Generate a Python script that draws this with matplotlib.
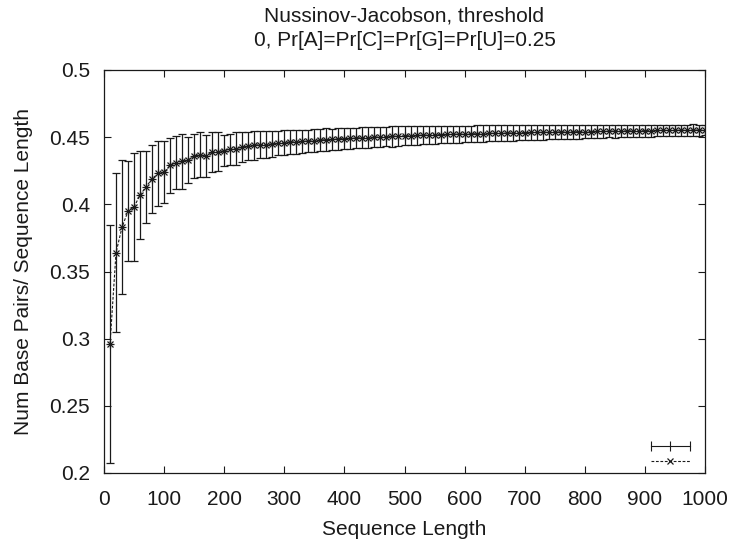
import numpy as np
import matplotlib
matplotlib.use("Agg")
import matplotlib.pyplot as plt

plt.rcParams['font.family'] = ['Liberation Sans', 'DejaVu Sans']

seq_len = list(range(10, 1001, 10))

mean_ratio = [
    0.296, 0.364, 0.383, 0.395, 0.398, 0.407, 0.413, 0.419, 0.423, 0.424,
    0.429, 0.431, 0.432, 0.433, 0.436, 0.437, 0.436, 0.439, 0.439, 0.440,
    0.441, 0.4415, 0.4425, 0.4435, 0.444, 0.4445, 0.4445, 0.445, 0.4455, 0.446,
    0.4465, 0.4466, 0.4468, 0.4472, 0.4475, 0.448, 0.4481, 0.4484, 0.4488, 0.449,
    0.4491, 0.4494, 0.4496, 0.4497, 0.450, 0.4502, 0.4504, 0.4507, 0.4508, 0.451,
    0.4511, 0.4513, 0.4515, 0.4516, 0.4518, 0.4519, 0.452, 0.4521, 0.4523, 0.4524,
    0.4525, 0.4526, 0.4527, 0.4528, 0.4529, 0.453, 0.4531, 0.4532, 0.4533, 0.4534,
    0.4535, 0.4536, 0.4536, 0.4537, 0.4538, 0.4539, 0.454, 0.454, 0.4541, 0.4542,
    0.4542, 0.4543, 0.4544, 0.4545, 0.4545, 0.4546, 0.4547, 0.4547, 0.4548, 0.4548,
    0.4549, 0.455, 0.455, 0.4551, 0.4551, 0.4552, 0.4552, 0.4553, 0.4553, 0.4553,
]

half_err = [
    0.0884, 0.059, 0.050, 0.037, 0.0405, 0.033, 0.027, 0.0255, 0.0245, 0.0228,
    0.0205, 0.0198, 0.0207, 0.0168, 0.0164, 0.0165, 0.0157, 0.0152, 0.0145, 0.0118,
    0.0117, 0.0120, 0.0110, 0.0105, 0.0108, 0.0100, 0.0102, 0.0098, 0.0090, 0.0092,
    0.0090, 0.0088, 0.0089, 0.0085, 0.0086, 0.0083, 0.0084, 0.0080, 0.0081, 0.0079,
    0.0078, 0.0077, 0.0078, 0.0075, 0.0074, 0.0075, 0.0073, 0.0078, 0.0076, 0.0070,
    0.0069, 0.0068, 0.0069, 0.0066, 0.0067, 0.0065, 0.0064, 0.0065, 0.0063, 0.0062,
    0.0061, 0.0062, 0.0060, 0.0059, 0.0060, 0.0058, 0.0057, 0.0058, 0.0056, 0.0055,
    0.0056, 0.0054, 0.0055, 0.0053, 0.0052, 0.0053, 0.0051, 0.0050, 0.0051, 0.0050,
    0.0049, 0.0050, 0.0048, 0.0047, 0.0048, 0.0046, 0.0047, 0.0045, 0.0046, 0.0044,
    0.0045, 0.0043, 0.0044, 0.0042, 0.0043, 0.0042, 0.0041, 0.0042, 0.0041, 0.0040,
]

x_ticks = [0, 100, 200, 300, 400, 500, 600, 700, 800, 900, 1000]
y_ticks = [0.2, 0.25, 0.3, 0.35, 0.4, 0.45, 0.5]
y_tick_labels = ['0.2', '0.25', '0.3', '0.35', '0.4', '0.45', '0.5']

fig = plt.figure(figsize=(7.3, 5.44), dpi=100)
ax = fig.add_axes([104/730, 1 - 473/544, (705-104)/730, (473-70)/544])

col = '#1a1a1a'
ax.errorbar(seq_len, mean_ratio, yerr=half_err, fmt='+', color=col, ecolor=col,
            elinewidth=0.9, capsize=3.2, capthick=0.9, markersize=6, mew=0.9)
ax.plot(seq_len, mean_ratio, linestyle=(0, (2.5, 1.5)), color=col, lw=0.8,
        marker='x', markersize=5, mew=0.9)

ax.set_xlim(0, 1000)
ax.set_ylim(0.2, 0.5)
ax.set_xticks(x_ticks)
ax.set_xticklabels([str(t) for t in x_ticks])
ax.set_yticks(y_ticks)
ax.set_yticklabels(y_tick_labels)
ax.tick_params(direction='in', length=5, width=0.8, top=True, right=True,
               labelsize=15, colors=col)
ax.tick_params(axis='x', pad=12)
ax.tick_params(axis='y', pad=10)
for s in ax.spines.values():
    s.set_linewidth(0.9)
    s.set_color(col)

ax.set_xlabel('Sequence Length', fontsize=15, color=col, labelpad=8)
ax.set_ylabel('Num Base Pairs/ Sequence Length', fontsize=15, color=col, labelpad=12)
ax.set_title('Nussinov-Jacobson, threshold\n0, Pr[A]=Pr[C]=Pr[G]=Pr[U]=0.25',
             fontsize=15, color=col, pad=17, linespacing=1.4)

# legend samples (no labels), drawn in axes coordinates
tr = ax.transAxes
ax.plot([0.91, 0.975], [0.066, 0.066], color=col, lw=0.8, transform=tr, clip_on=False)
ax.plot([0.91, 0.9425, 0.975], [0.066, 0.066, 0.066], linestyle='none', marker='|',
        markersize=7, mew=0.8, color=col, transform=tr, clip_on=False)
ax.plot([0.91, 0.975], [0.030, 0.030], color=col, lw=0.8, linestyle=(0, (2.5, 1.5)),
        transform=tr, clip_on=False)
ax.plot([0.9425], [0.030], marker='x', markersize=5, mew=0.9, color=col,
        transform=tr, clip_on=False)

fig.savefig('out.png', dpi=100)
